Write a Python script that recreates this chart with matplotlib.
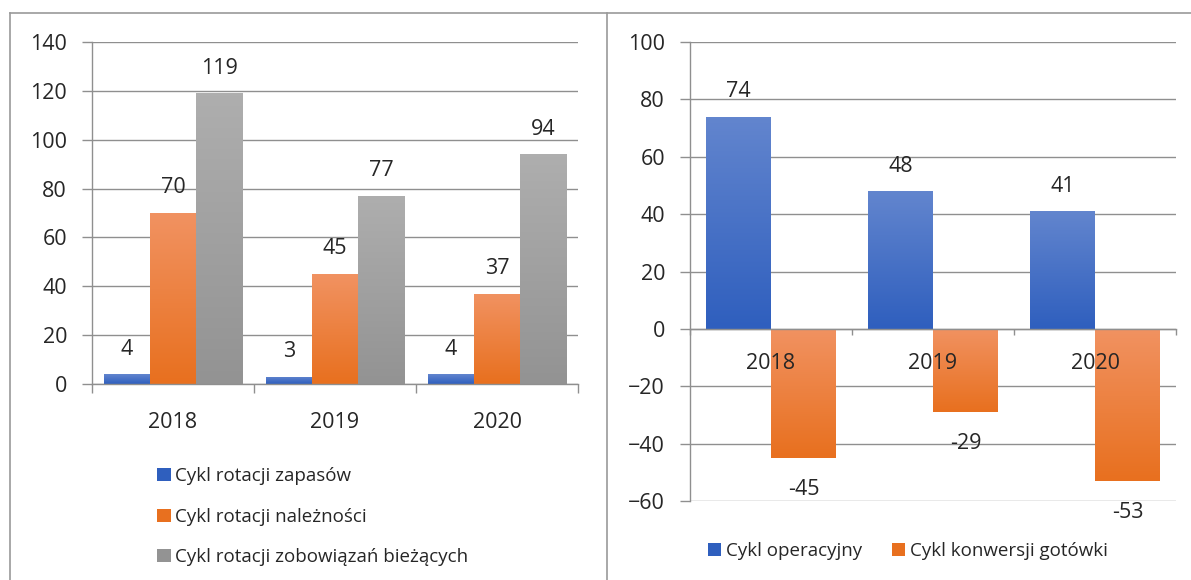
import numpy as np
import matplotlib
matplotlib.use("Agg")
import matplotlib.pyplot as plt
from matplotlib.lines import Line2D
from matplotlib.colors import LinearSegmentedColormap

# ---------------- data ----------------
years = ["2018", "2019", "2020"]
zapasy = [4, 3, 4]
naleznosci = [70, 45, 37]
zobowiazania = [119, 77, 94]
left_labels = ["Cykl rotacji zapasów", "Cykl rotacji należności",
               "Cykl rotacji zobowiązań bieżących"]

operacyjny = [74, 48, 41]
konwersja = [-45, -29, -53]
right_labels = ["Cykl operacyjny", "Cykl konwersji gotówki"]

# ---------------- style ----------------
plt.rcParams['font.family'] = ['Open Sans', 'DejaVu Sans']
TXT = '#262626'
GRID = '#8f8f8f'
NUM_FS = 15.5
LEG_FS = 13.5

BLUE = ('#6285CE', '#2F5FBE')
ORANGE = ('#F19261', '#E8701F')
GRAY = ('#AEAEAE', '#939393')

W, H = 1191, 580
fig = plt.figure(figsize=(W / 100, H / 100), dpi=100)


def fx(px):
    return px / W


def fy(py):
    return 1 - py / H


def gradient_bars(ax, bars, cols):
    cmap = LinearSegmentedColormap.from_list('g', [cols[1], cols[0]])
    grad = np.linspace(0, 1, 64).reshape(-1, 1)
    for b in bars:
        x, y = b.get_x(), b.get_y()
        w, h = b.get_width(), b.get_height()
        y0, y1 = min(y, y + h), max(y, y + h)
        im = ax.imshow(grad, extent=[x, x + w, y0, y1], origin='lower',
                       cmap=cmap, aspect='auto', zorder=b.get_zorder() + 0.1,
                       interpolation='bilinear')
        im.set_clip_path(b)


def style_axes(ax):
    for s in ['top', 'right']:
        ax.spines[s].set_visible(False)
    for s in ['left', 'bottom']:
        ax.spines[s].set_color(GRID)
        ax.spines[s].set_linewidth(1.0)
    ax.yaxis.grid(True, color=GRID, linewidth=1.0)
    ax.set_axisbelow(True)
    ax.tick_params(axis='y', length=7, color=GRID, width=1.0, pad=11,
                   labelsize=NUM_FS, labelcolor=TXT)
    ax.tick_params(axis='x', which='major', length=0, labelsize=NUM_FS,
                   labelcolor=TXT)
    ax.tick_params(axis='x', which='minor', length=6.5, color=GRID, width=1.0)


# ---------------- left chart ----------------
axL = fig.add_axes([fx(92), fy(384), fx(578 - 92), fy(42) - fy(384)])
x = np.arange(len(years))
bw = 0.284
series_L = [zapasy, naleznosci, zobowiazania]
cols_L = [BLUE, ORANGE, GRAY]
handles_L = []
for i, (vals, cols) in enumerate(zip(series_L, cols_L)):
    bars = axL.bar(x + (i - 1) * bw, vals, bw, color=cols[1], zorder=2,
                   label=left_labels[i])
    gradient_bars(axL, bars, cols)
    handles_L.append(bars)
    for b, v in zip(bars, vals):
        axL.annotate(str(v), (b.get_x() + b.get_width() / 2, v),
                     xytext=(0, 10.5), textcoords='offset points',
                     ha='center', va='bottom', fontsize=NUM_FS, color=TXT)
axL.set_xlim(-0.5, 2.5)
axL.set_ylim(0, 140)
axL.set_yticks(np.arange(0, 141, 20))
axL.set_xticks(x)
axL.set_xticklabels(years)
axL.set_xticks([-0.5, 0.5, 1.5, 2.5], minor=True)
style_axes(axL)
axL.tick_params(axis='x', which='major', pad=20)

legL = fig.legend(handles=handles_L, labels=left_labels, loc='upper left',
                  bbox_to_anchor=(fx(148), fy(458)), frameon=False,
                  fontsize=LEG_FS, handlelength=0.7, handleheight=0.7,
                  handletextpad=0.25, labelspacing=1.2, borderpad=0,
                  labelcolor=TXT)

# ---------------- right chart ----------------
axR = fig.add_axes([fx(690), fy(501), fx(1176 - 690), fy(42) - fy(501)])
bw2 = 0.4
series_R = [operacyjny, konwersja]
cols_R = [BLUE, ORANGE]
handles_R = []
for i, (vals, cols) in enumerate(zip(series_R, cols_R)):
    bars = axR.bar(x + (i - 0.5) * bw2, vals, bw2, color=cols[1], zorder=2,
                   label=right_labels[i])
    gradient_bars(axR, bars, cols)
    handles_R.append(bars)
    for b, v in zip(bars, vals):
        if v >= 0:
            axR.annotate(str(v), (b.get_x() + b.get_width() / 2, v),
                         xytext=(0, 10.5), textcoords='offset points',
                         ha='center', va='bottom', fontsize=NUM_FS, color=TXT)
        else:
            axR.annotate(str(v), (b.get_x() + b.get_width() / 2, v),
                         xytext=(0, -15), textcoords='offset points',
                         ha='center', va='top', fontsize=NUM_FS, color=TXT)
axR.set_xlim(-0.5, 2.5)
axR.set_ylim(-60, 100)
axR.set_yticks(np.arange(-60, 101, 20))
axR.set_xticks(x)
axR.set_xticklabels([])
axR.set_xticks([-0.5, 0.5, 1.5, 2.5], minor=True)
style_axes(axR)
axR.spines['bottom'].set_position(('data', 0))
axR.spines['bottom'].set_zorder(3)
axR.tick_params(axis='x', which='minor', length=4)
# category labels drawn on top of the bars
for xi, yr in zip(x, years):
    axR.annotate(yr, (xi, 0), xytext=(0, -25), textcoords='offset points',
                 ha='center', va='center', fontsize=NUM_FS, color=TXT,
                 zorder=6)

legR = fig.legend(handles=handles_R, labels=right_labels, loc='center left',
                  bbox_to_anchor=(fx(699), fy(551)), frameon=False,
                  fontsize=LEG_FS, handlelength=0.7, handleheight=0.7,
                  handletextpad=0.25, columnspacing=1.6, ncol=2, borderpad=0,
                  labelcolor=TXT)

# ---------------- frame lines ----------------
fc = '#9a9a9a'
fig.add_artist(Line2D([fx(9.5), fx(9.5)], [fy(13), 0], color=fc, lw=1.2,
                      transform=fig.transFigure))
fig.add_artist(Line2D([fx(9.5), 1], [fy(13), fy(13)], color=fc, lw=1.2,
                      transform=fig.transFigure))
fig.add_artist(Line2D([fx(607), fx(607)], [fy(13), 0], color=fc, lw=1.2,
                      transform=fig.transFigure))

fig.savefig('out.png', dpi=100)
